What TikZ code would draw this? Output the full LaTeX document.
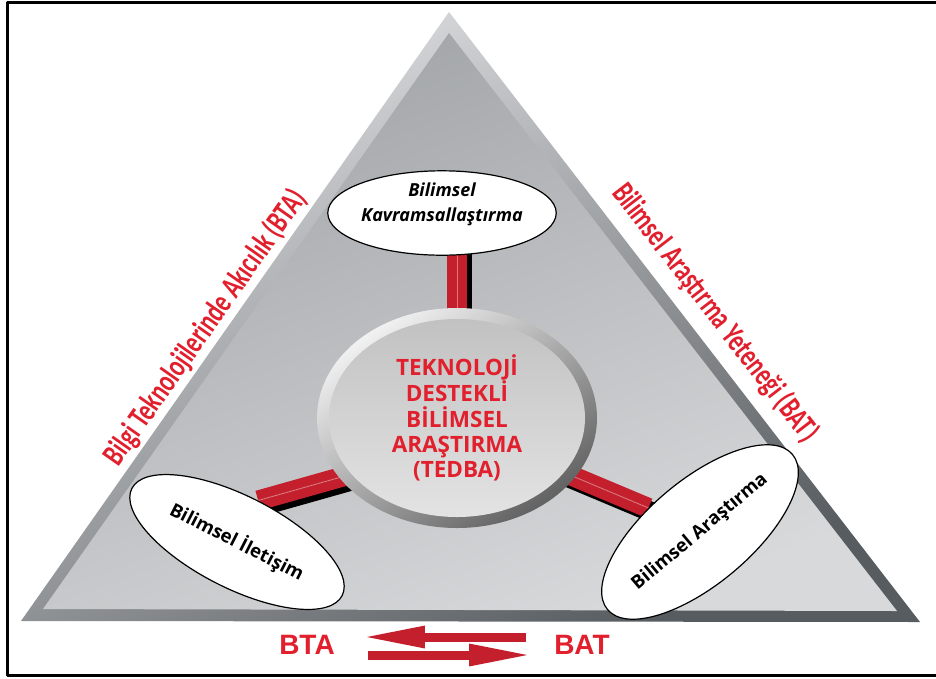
\documentclass[tikz,border=0pt]{standalone}
\usepackage{fontspec}
\setmainfont{Open Sans}
\newfontfamily\sidefont[FakeStretch=0.72]{Carlito}
\newfontfamily\tagfont{Liberation Sans}
\usetikzlibrary{positioning,arrows.meta,shapes.geometric}

\definecolor{tedred}{HTML}{E11F2D}
\definecolor{barred}{HTML}{C41F2D}
\definecolor{barhi}{HTML}{E4727A}
\definecolor{bandlight}{HTML}{E0E1E3}
\definecolor{banddark}{HTML}{575C60}
\definecolor{facetop}{HTML}{A1A4A7}
\definecolor{facebot}{HTML}{D8D9DB}

\pgfdeclarelayer{back}
\pgfdeclarelayer{links}
\pgfsetlayers{back,links,main}

\tikzset{
	topic/.style={ellipse, draw=black, line width=1.2pt, fill=white, inner sep=0pt,
		font=\bfseries\fontsize{18.5}{22}\selectfont},
	core/.style={ellipse, inner sep=0pt, minimum width=256pt, minimum height=198pt,
		top color=black!24, bottom color=black!11, text=tedred, align=center,
		font=\bfseries\fontsize{22.5}{25.3}\selectfont},
	link/.style={line cap=butt,
		preaction={draw=black, line width=20pt, transform canvas={shift={(5,5)}}},
		preaction={draw=barred, line width=20pt},
		postaction={draw=barhi, line width=1pt}},
	side/.style={text=tedred, inner sep=0pt, font=\sidefont\bfseries\fontsize{32}{34}\selectfont},
	tag/.style={text=tedred, inner sep=0pt, font=\tagfont\bfseries\fontsize{28}{30}\selectfont},
	flow/.style={draw=barred, line width=9pt, line cap=butt, -{Triangle[length=64pt, width=20pt]}}
}

\begin{document}
\begin{tikzpicture}[x=1pt, y=-1pt, line join=round]
	\useasboundingbox (0,0) rectangle (936,678);

	\coordinate (top) at (449,12);
	\coordinate (left) at (21,621);
	\coordinate (right) at (920,622);

	\begin{pgfonlayer}{back}
		\shade[top color=bandlight, middle color=bandlight!88!banddark, bottom color=banddark, shading angle=27]
			(top) -- (left) -- (right) -- cycle;
		\shade[top color=facetop, bottom color=facebot, shading angle=20]
			(449,33) -- (43,609) -- (897,611) -- cycle;
	\end{pgfonlayer}

	\path (left) -- (top) node[side, sloped, pos=0.465, above=3pt] {Bilgi Teknolojilerinde Akıcılık (BTA)};
	\path (top) -- (right) node[side, sloped, pos=0.52, above=12pt] {Bilimsel Araştırma Yeteneği (BAT)};

	\coordinate (hub) at (457,418);
	\shade[top color=black!5, bottom color=black!62, shading angle=35]
		(hub) ellipse [x radius=140, y radius=110];
	\node[core] (core) at (hub) {TEKNOLOJİ\\DESTEKLİ\\BİLİMSEL\\ARAŞTIRMA\\(TEDBA)};

	\node[topic, minimum width=224pt, minimum height=70pt, align=center,
		font=\bfseries\itshape\fontsize{18}{25}\selectfont] (kavram) at (442,213)
		{Bilimsel\\Kavramsallaştırma\\[-4pt]};
	\node[topic, rotate=-27, minimum width=236pt, minimum height=92pt] (comm) at (237,542) {Bilimsel İletişim};
	\node[topic, rotate=40, minimum width=214pt, minimum height=104pt] (research) at (700,532) {Bilimsel Araştırma};

	\begin{pgfonlayer}{links}
		\draw[link] (core.center) -- (core.center |- kavram.center);
		\draw[link] (core.208) -- (comm.north);
		\draw[link] (core.-27) -- (research.115);
	\end{pgfonlayer}

	\node[tag] (bta) at (307,645) {BTA};
	\node[tag] (bat) at (582,645) {BAT};
	\draw[flow] ([xshift=-28pt, yshift=8pt]bat.west) -- ([xshift=26pt, yshift=8pt]bta.east);
	\draw[flow] ([xshift=33pt, yshift=-10pt]bta.east) -- ([xshift=-21pt, yshift=-10pt]bat.west);

	\draw[line width=3pt] (936,2.5) -- (7,2.5) -- (7,675) -- (936,675);
\end{tikzpicture}
\end{document}
